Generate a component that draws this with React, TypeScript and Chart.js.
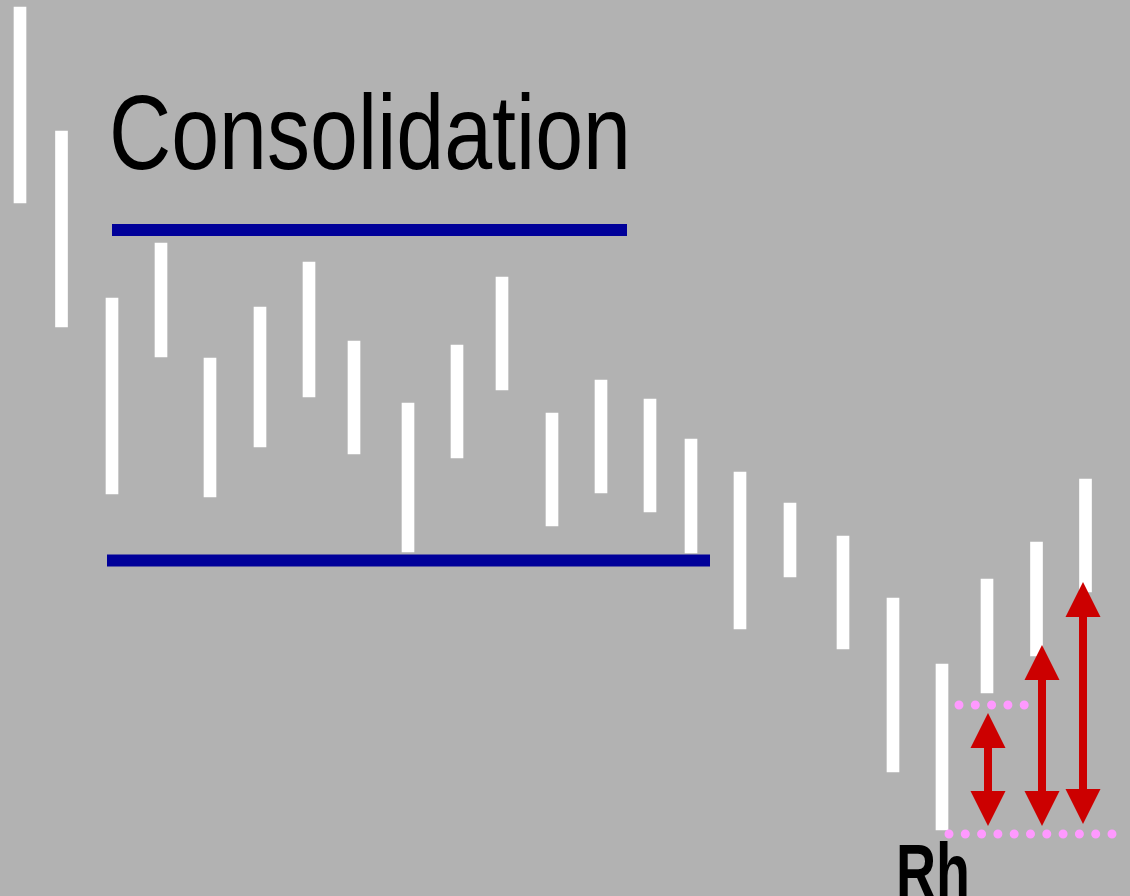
import React, { useEffect, useRef } from "react";
import { Chart, registerables } from "chart.js";

Chart.register(...registerables);

// Bar positions along the time axis and their high/low prices
const barX = [20, 61.5, 112, 161, 210, 260, 309, 354, 408, 457, 502, 552, 601, 650, 691, 740, 790, 843, 893, 942, 987, 1036.5, 1085.5];
const barHigh = [88.9, 76.5, 59.8, 65.3, 53.8, 58.9, 63.4, 55.5, 49.3, 55.1, 61.9, 48.3, 51.6, 49.7, 45.7, 42.4, 39.3, 36.0, 29.8, 23.2, 31.7, 35.4, 41.7];
const barLow = [69.3, 56.9, 40.2, 53.9, 39.9, 44.9, 49.9, 44.2, 34.4, 43.8, 50.6, 37.0, 40.3, 38.4, 34.3, 26.7, 31.9, 24.7, 12.4, 6.6, 20.3, 24.0, 30.4];

// Consolidation range lines
const resistanceX = [112, 627];
const resistanceY = 66.6;
const supportX = [107, 710];
const supportY = 33.55;

// Dotted reference lines
const dotsTopX = [959, 1025];
const dotsTopY = 19.1;
const dotsBottomX = [949, 1113];
const dotsBottomY = 6.2;

// Measuring arrows
const arrowX = [988, 1042, 1083];
const arrowTop = [18.3, 25.1, 31.4];
const arrowBottom = [7.0, 7.0, 7.2];

const titleText = "Consolidation";
const markText = "Rh";

export default function App() {
  const ref = useRef<HTMLCanvasElement | null>(null);

  useEffect(() => {
    if (!ref.current) return;
    const bgPlugin = {
      id: "bg",
      beforeDraw(chart: any) {
        const c = chart.ctx;
        c.save();
        c.fillStyle = "#b2b2b2";
        c.fillRect(0, 0, chart.width, chart.height);
        c.restore();
      },
    };
    const arrowPlugin = {
      id: "arrows",
      afterDatasetsDraw(chart: any) {
        const c = chart.ctx;
        const xs = chart.scales.x;
        const ys = chart.scales.y;
        const head = 35;
        const half = 17.5;
        const shaft = 8;
        c.save();
        c.fillStyle = "#cc0000";
        for (let i = 0; i < arrowX.length; i++) {
          const x = xs.getPixelForValue(arrowX[i]);
          const yt = ys.getPixelForValue(arrowTop[i]);
          const yb = ys.getPixelForValue(arrowBottom[i]);
          c.fillRect(x - shaft / 2, yt + head - 1, shaft, yb - yt - 2 * head + 2);
          c.beginPath();
          c.moveTo(x, yt);
          c.lineTo(x + half, yt + head);
          c.lineTo(x - half, yt + head);
          c.closePath();
          c.fill();
          c.beginPath();
          c.moveTo(x, yb);
          c.lineTo(x + half, yb - head);
          c.lineTo(x - half, yb - head);
          c.closePath();
          c.fill();
        }
        c.restore();
      },
    };
    const textPlugin = {
      id: "texts",
      afterDraw(chart: any) {
        const c = chart.ctx;
        const drawFit = (t: string, font: string, left: number, base: number, width: number) => {
          c.save();
          c.font = font;
          c.fillStyle = "#000000";
          c.textBaseline = "alphabetic";
          c.textAlign = "left";
          const w = c.measureText(t).width;
          c.translate(left, base);
          c.scale(width / w, 1);
          c.fillText(t, 0, 0);
          c.restore();
        };
        drawFit(titleText, '106px "Liberation Sans", Arial, sans-serif', 109, 169, 522);
        drawFit(markText, 'bold 78px "Liberation Sans", Arial, sans-serif', 896, 898, 74);
      },
    };

    const dotted = (xs: number[], y: number) => ({
      type: "line",
      data: [
        { x: xs[0], y },
        { x: xs[1], y },
      ],
      borderColor: "#ff99ff",
      borderWidth: 9,
      borderCapStyle: "round",
      borderDash: [0, 16.3],
      pointRadius: 0,
      order: 1,
    });

    const chart = new Chart(ref.current, {
      type: "bar",
      data: {
        datasets: [
          {
            type: "line",
            data: [
              { x: resistanceX[0], y: resistanceY },
              { x: resistanceX[1], y: resistanceY },
            ],
            borderColor: "#000099",
            borderWidth: 12,
            borderCapStyle: "butt",
            pointRadius: 0,
            order: 1,
          },
          {
            type: "line",
            data: [
              { x: supportX[0], y: supportY },
              { x: supportX[1], y: supportY },
            ],
            borderColor: "#000099",
            borderWidth: 12,
            borderCapStyle: "butt",
            pointRadius: 0,
            order: 1,
          },
          dotted(dotsTopX, dotsTopY),
          dotted(dotsBottomX, dotsBottomY),
          {
            type: "bar",
            data: barX.map((x, i) => ({ x, y: [barLow[i], barHigh[i]] })) as any,
            backgroundColor: "#ffffff",
            borderWidth: 0,
            barThickness: 12,
            order: 2,
          },
        ] as any,
      },
      options: {
        responsive: false,
        maintainAspectRatio: false,
        devicePixelRatio: 1,
        animation: false,
        layout: { padding: 0 },
        plugins: {
          legend: { display: false },
          tooltip: { enabled: false },
          title: { display: false },
        },
        events: [],
        scales: {
          x: {
            type: "linear",
            min: 0,
            max: 1130,
            offset: false,
            display: false,
            grid: { display: false },
          },
          y: {
            type: "linear",
            min: 0,
            max: 89.6,
            display: false,
            grid: { display: false },
          },
        },
      } as any,
      plugins: [bgPlugin, arrowPlugin, textPlugin],
    });
    return () => chart.destroy();
  }, []);

  return (
    <div style={{ position: "fixed", left: 0, top: 0, width: 1130, height: 896, background: "#b2b2b2" }}>
      <canvas ref={ref} width={1130} height={896} style={{ display: "block", width: 1130, height: 896 }} />
    </div>
  );
}
